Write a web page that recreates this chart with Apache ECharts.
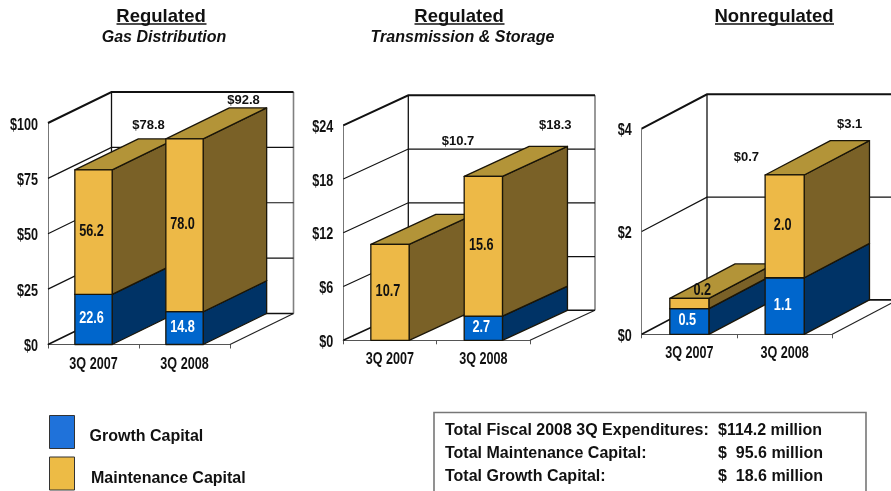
<!DOCTYPE html>
<html><head><meta charset="utf-8">
<style>html,body{margin:0;padding:0;background:#fff}#c{width:891px;height:491px}</style>
<script src="https://cdn.jsdelivr.net/npm/echarts@6/dist/echarts.min.js"></script>
</head><body><div id="c"></div>
<script>
const categories = ['3Q 2007', '3Q 2008'];
const gasGrowth = [22.6, 14.8];
const gasMaintenance = [56.2, 78.0];
const gasTotal = [78.8, 92.8];
const storageGrowth = [0, 2.7];
const storageMaintenance = [10.7, 15.6];
const storageTotal = [10.7, 18.3];
const nonregGrowth = [0.5, 1.1];
const nonregMaintenance = [0.2, 2.0];
const nonregTotal = [0.7, 3.1];
const gasTicks = [0, 25, 50, 75, 100];
const storageTicks = [0, 6, 12, 18, 24];
const nonregTicks = [0, 2, 4];
const summaryLabels = ['Total Fiscal 2008 3Q Expenditures:', 'Total Maintenance Capital:', 'Total Growth Capital:'];
const summaryValues = ['$114.2 million', '$  95.6 million', '$  18.6 million'];

const SANS = '"Liberation Sans",Arial,sans-serif';
const OUT = '#1a1508';

const panels = [
  {title:'Regulated', sub:'Gas Distribution', cx:161, subCx:164, left:48, right:230, top:123, bottom:344.5, dx:63.5, dy:31,
   ticks:gasTicks, growth:gasGrowth, maint:gasMaintenance, total:gasTotal, uw:90, totalOff:[[55,-45],[59,-39]]},
  {title:'Regulated', sub:'Transmission & Storage', cx:459, subCx:462.5, left:343.3, right:530, top:125.3, bottom:340.3, dx:65, dy:30,
   ticks:storageTicks, growth:storageGrowth, maint:storageMaintenance, total:storageTotal, uw:90, totalOff:[[68,-103],[72,-51]]},
  {title:'Nonregulated', sub:'', cx:774, subCx:774, left:641.7, right:832.3, top:128.7, bottom:334.3, dx:65.3, dy:34.4,
   ticks:nonregTicks, growth:nonregGrowth, maint:nonregMaintenance, total:nonregTotal, uw:119, totalOff:[[57,-141],[65,-51]]}
];

const BAR_RATIO = 0.41;
const AXIS_SQUEEZE = 0.74;
const VALUE_SQUEEZE = 0.77;
const colours = {
  growth:{front:'#0066CC', side:'#003366', top:'#003F7F', label:'#fff'},
  maint:{front:'#EDB947', side:'#7A6127', top:'#B39438', label:'#111'}
};

function wallItem(p){
  return function(params, api){
    const v = api.value(1);
    const y = api.coord([0, v])[1];
    const lw = v === p.ticks[p.ticks.length-1] ? 2 : (v === 0 ? 1.6 : 1.2);
    const children = [];
    const bl = p.left + p.dx, br = p.right + p.dx, by = y - p.dy;
    if (v === 0) {
      const floorTop = y - p.dy, topY = p.top - p.dy;
      children.push({type:'polyline', shape:{points:[[br,floorTop],[p.right,y]]}, style:{fill:null, stroke:'#222', lineWidth:1.2}});
      children.push({type:'line', shape:{x1:bl,y1:topY,x2:bl,y2:floorTop}, style:{stroke:'#111', lineWidth:1.3}});
      children.push({type:'line', shape:{x1:br,y1:topY,x2:br,y2:floorTop}, style:{stroke:'#808080', lineWidth:1.6}});
    }
    children.push({type:'polyline', shape:{points:[[p.left,y],[bl,by],[br,by]]},
      style:{fill:null, stroke:'#111', lineWidth:lw}});
    return {type:'group', children};
  };
}

function barItem(p, kind){
  const c = colours[kind];
  return function(params, api){
    const i = api.value(0), base = api.value(1), val = api.value(2);
    if (!val) return null;
    const a = api.coord([i, base]), b = api.coord([i, base + val]);
    const w = api.size([1, 0])[0] * BAR_RATIO;
    const l = a[0] - w/2, r = a[0] + w/2, y0 = a[1], y1 = b[1];
    const z = (i + 1) * 10 + (kind === 'maint' ? 1 : 0);
    const st = fill => ({fill, stroke:OUT, lineWidth:1.3, lineJoin:'round'});
    const children = [
      {type:'polygon', z2:z, shape:{points:[[r,y0],[r+p.dx,y0-p.dy],[r+p.dx,y1-p.dy],[r,y1]]}, style:st(c.side)},
      {type:'polygon', z2:z, shape:{points:[[l,y1],[r,y1],[r+p.dx,y1-p.dy],[l+p.dx,y1-p.dy]]}, style:st(kind==='maint'?c.top:c.side)},
      {type:'rect', z2:z, shape:{x:l,y:y1,width:w,height:y0-y1}, style:st(c.front)}
    ];
    const small = (y0 - y1) < 14;
    children.push({type:'text', z2:z+1, x:(l+r)/2 + (small?13:-2), y:(y0+y1)/2 - (small?13:1), scaleX:VALUE_SQUEEZE, style:{
      text:val.toFixed(1), x:0, y:0, align:'center', verticalAlign:'middle',
      font:'bold 16.5px '+SANS, fill:small?'#111':c.label}});
    return {type:'group', children};
  };
}

function totalItem(p){
  return function(params, api){
    const i = api.value(0), v = api.value(1);
    const pt = api.coord([i, v]);
    const off = p.totalOff[i];
    return {type:'text', z2:100, style:{text:'$'+v.toFixed(1), x:pt[0]+off[0], y:pt[1]+off[1], align:'center', verticalAlign:'middle',
      font:'bold 13px '+SANS, fill:'#111'}};
  };
}

const grid=[], xAxis=[], yAxis=[], series=[], title=[], graphic=[];
panels.forEach((p, k) => {
  grid.push({left:p.left, top:p.top, width:p.right-p.left, height:p.bottom-p.top, containLabel:false, outerBoundsMode:'none'});
  xAxis.push({type:'category', gridIndex:k, data:categories, boundaryGap:true,
    axisLine:{show:true, onZero:false, lineStyle:{color:'#555', width:1.2}},
    axisTick:{show:true, alignWithLabel:false, length:4, lineStyle:{color:'#555'}},
    axisLabel:{margin:11, interval:0, color:'#111', fontFamily:SANS, fontWeight:'bold', fontSize:17}});
  const t = p.ticks;
  yAxis.push({type:'value', gridIndex:k, min:t[0], max:t[t.length-1], interval:t[1]-t[0],
    axisLine:{show:true, lineStyle:{color:'#777', width:1}},
    axisTick:{show:false}, splitLine:{show:false},
    axisLabel:{margin:10, color:'#111', fontFamily:SANS, fontWeight:'bold', fontSize:17, formatter:v=>'$'+v}});
  const common = {type:'custom', xAxisIndex:k, yAxisIndex:k, clip:false, silent:true};
  series.push({...common, name:'wall'+k, z:1, renderItem:wallItem(p), encode:{y:1}, data:t.map(v=>[0,v])});
  series.push({...common, name:'Growth Capital', z:2, renderItem:barItem(p,'growth'), encode:{x:0,y:2},
    itemStyle:{color:colours.growth.front},
    data:categories.map((c,i)=>[i,0,p.growth[i]])});
  series.push({...common, name:'Maintenance Capital', z:2, renderItem:barItem(p,'maint'), encode:{x:0,y:2},
    itemStyle:{color:colours.maint.front},
    data:categories.map((c,i)=>[i,p.growth[i],p.maint[i]])});
  series.push({...common, name:'total'+k, z:3, renderItem:totalItem(p), encode:{x:0,y:1},
    data:categories.map((c,i)=>[i,p.total[i]])});
  title.push({text:p.title, left:p.cx, top:7, textAlign:'center', padding:0,
    textStyle:{fontFamily:SANS, fontWeight:'bold', fontSize:18.5, color:'#111', lineHeight:20}});
  if (p.sub) title.push({text:p.sub, left:p.subCx, top:29, textAlign:'center', padding:0,
    textStyle:{fontFamily:SANS, fontWeight:'bold', fontStyle:'italic', fontSize:16, color:'#111', lineHeight:18}});
  graphic.push({type:'line', shape:{x1:p.cx-p.uw/2+0.5,y1:24,x2:p.cx+p.uw/2+0.5,y2:24}, style:{stroke:'#111', lineWidth:1.5}});
});

// legend captions sit below their swatches' centres, so they are placed separately
graphic.push({type:'text', style:{text:'Growth Capital', x:89.5, y:436.7, verticalAlign:'middle', font:'bold 16px '+SANS, fill:'#111'}});
graphic.push({type:'text', style:{text:'Maintenance Capital', x:91, y:479, verticalAlign:'middle', font:'bold 16px '+SANS, fill:'#111'}});

// summary box
graphic.push({type:'rect', shape:{x:434,y:412.5,width:432,height:90}, style:{fill:'#fff', stroke:'#777', lineWidth:1.6}});
const summaryRows = [430.7, 454, 476.7];
summaryLabels.forEach((s,i)=>{
  const y = summaryRows[i];
  graphic.push({type:'text', style:{text:s, x:445, y, verticalAlign:'middle', font:'bold 16px '+SANS, fill:'#111'}});
  graphic.push({type:'text', style:{text:summaryValues[i], x:718, y, verticalAlign:'middle', font:'bold 16px '+SANS, fill:'#111'}});
});

const legendBase = {orient:'horizontal', left:49, padding:0, itemWidth:25, itemHeight:33, icon:'rect', selectedMode:false, formatter:()=>''};
const chart = echarts.init(document.getElementById('c'), null, {renderer:'canvas', width:891, height:491});
chart.setOption({
  animation:false, backgroundColor:'#fff', title, grid, xAxis, yAxis, series, graphic,
  legend:[
    {...legendBase, top:415, data:[{name:'Growth Capital', itemStyle:{color:'#1F72DA', borderColor:'#333', borderWidth:1}}]},
    {...legendBase, top:456.5, data:[{name:'Maintenance Capital', itemStyle:{color:'#EDBB45', borderColor:'#333', borderWidth:1}}]}
  ]
});

// The reference uses a narrow bold face that is not installed: squeeze the axis labels horizontally,
// and nudge the value-axis labels to sit as low as the reference's.
const isCategoryLabel = s => categories.includes(s);
const isValueLabel = s => /^\$\d+$/.test(s);
chart.getZr().storage.getRoots().forEach(function visit(el){
  if (el.isGroup) { el.eachChild(visit); return; }
  const s = el.style && el.style.text;
  if (typeof s !== 'string') return;
  if (isCategoryLabel(s) || isValueLabel(s)) {
    el.scaleX = AXIS_SQUEEZE;
    if (isValueLabel(s)) el.y += 2;
    el.dirty && el.dirty();
  }
});
chart.getZr().refresh();
</script></body></html>
